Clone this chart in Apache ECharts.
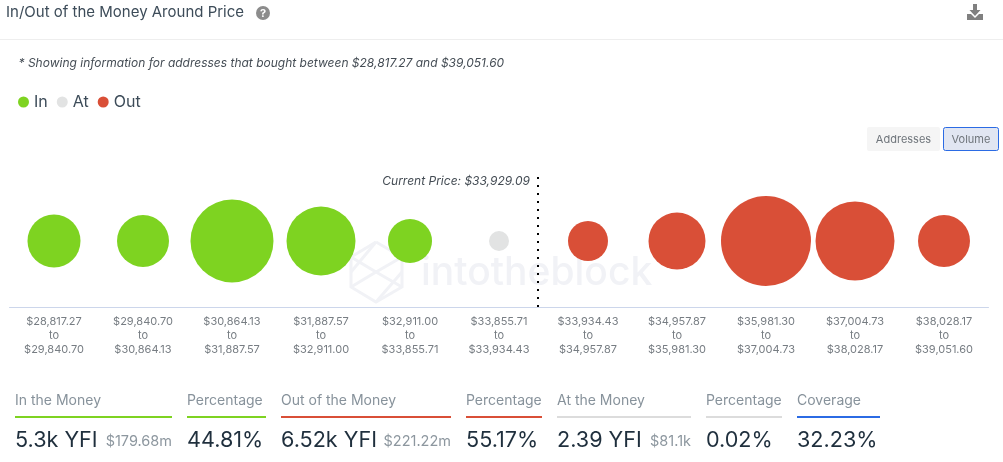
<!DOCTYPE html>
<html>
<head>
<meta charset="utf-8">
<style>html,body{margin:0;padding:0;background:#fff}#c{width:1003px;height:462px}</style>
<script src="https://cdn.jsdelivr.net/npm/echarts@6/dist/echarts.min.js"></script>
</head>
<body>
<div id="c"></div>
<script>
const categories = [
  "$28,817.27\nto\n$29,840.70","$29,840.70\nto\n$30,864.13","$30,864.13\nto\n$31,887.57",
  "$31,887.57\nto\n$32,911.00","$32,911.00\nto\n$33,855.71","$33,855.71\nto\n$33,934.43",
  "$33,934.43\nto\n$34,957.87","$34,957.87\nto\n$35,981.30","$35,981.30\nto\n$37,004.73",
  "$37,004.73\nto\n$38,028.17","$38,028.17\nto\n$39,051.60"
];
// estimated volume per bin, $m (bubble area)
const inValues  = [28.1, 27.0, 68.9, 47.6, 19.4, null, null, null, null, null, null];
const atValues  = [null, null, null, null, null, 0.08, null, null, null, null, null];
const outValues = [null, null, null, null, null, null, 16.0, 32.5, 81.0, 62.4, 27.0];
const currentPriceBin = 5.44;
const titleText = "In/Out of the Money Around Price";
const noteText = "* Showing information for addresses that bought between $28,817.27 and $39,051.60";
const currentPriceText = "Current Price: $33,929.09";
const buttonLabels = ["Addresses", "Volume"];
const statLabels = ["In the Money","Percentage","Out of the Money","Percentage","At the Money","Percentage","Coverage"];
const statValues = ["5.3k YFI","44.81%","6.52k YFI","55.17%","2.39 YFI","0.02%","32.23%"];
const statSubValues = ["$179.68m","","$221.22m","","$81.1k","",""];

const GREEN="#7ed321", GREY="#e2e3e3", RED="#d94f37";
const statLayout = [[15,172,GREEN],[187,266,GREEN],[281,451,RED],[466,542,RED],[557,691,"#dcdcdc"],[706,782,"#dcdcdc"],[797,880,"#2b6be4"]];
const FONT = "Inter";

function points(arr){ return arr.map((v,i)=> v==null ? null : [i,0,v]).filter(Boolean); }
const bubble = d => Math.max(20, Math.sqrt(d[2])*10);
function bubbleSeries(name, arr, color){
  return {name, type:'scatter', data:points(arr), symbol:'circle', symbolSize:bubble,
    itemStyle:{color, opacity:1}, silent:true, z:3, xAxisIndex:0, yAxisIndex:0};
}

const graphics = [];
function text(x,y,t,o,z){ graphics.push({type:'text',x,y,silent:true,z:z===undefined?5:z,style:Object.assign({text:t,fontFamily:FONT,verticalAlign:'middle'},o)}); }
function rect(x,y,w,h,fill,extra){ graphics.push({type:'rect',silent:true,z:4,shape:{x,y,width:w,height:h,r:(extra&&extra.r)||0},style:Object.assign({fill},extra&&extra.style||{})}); }
function poly(pts,fill){ graphics.push({type:'polygon',silent:true,z:4,shape:{points:pts},style:{fill}}); }

text(6,12.5,titleText,{fontSize:15,fontWeight:400,fill:"#3d4c59"});
graphics.push({type:'circle',silent:true,z:5,shape:{cx:263,cy:13,r:7},style:{fill:"#8c8c8c"}});
text(263,13.5,"?",{fontSize:11,fontWeight:700,fill:"#fff",align:'center'},6);
poly([[973,4],[977,4],[977,10],[980.5,10],[975,16],[969.5,10],[973,10]],"#808080");
poly([[967,14],[971,14],[975,18],[979,14],[983,14],[983,20],[967,20]],"#808080");
rect(0,39,1003,1,"#eeeeee");
text(18.5,63,noteText,{fontSize:12,fontStyle:'italic',fill:"#444c54"});

rect(867,127,73,24,"#f5f5f5",{r:2});
text(903.5,139.5,buttonLabels[0],{fontSize:11,fill:"#6f757b",align:'center'});
rect(943.5,127.5,55,23,"#e1e6f2",{r:2,style:{stroke:"#2b6be4",lineWidth:1}});
text(971,139.5,buttonLabels[1],{fontSize:11,fill:"#6f757b",align:'center'});

text(530,181.5,currentPriceText,{fontSize:12,fontStyle:'italic',fill:"#444c54",align:'right'});

// watermark
const wm={stroke:"#f1f2f6",lineWidth:3,fill:null};
[[[376,242],[402,257],[402,287],[376,302],[351,287],[351,257],[376,242]],
 [[351,257],[376,272],[402,257]],[[376,272],[351,287]],[[376,272],[402,287]],[[376,242],[351,272]],[[376,302],[402,272]]]
 .forEach(p=>graphics.push({type:'polyline',silent:true,z:0,shape:{points:p},style:wm}));
text(421,273,"intotheblock",{fontSize:39,fontWeight:500,fill:"#f1f2f6"},0);

statLabels.forEach((l,i)=>{
  const [x0,x1,c]=statLayout[i];
  text(x0,400.5,l,{fontSize:14,fill:"#87929b"});
  rect(x0,416,x1-x0,2,c);
  text(x0,440,statValues[i],{fontSize:21.6,fill:"#1f2f3d"});
  if(statSubValues[i]) text(x1,442,statSubValues[i],{fontSize:14.5,fill:"#8d979f",align:'right'});
});

const chart = echarts.init(document.getElementById('c'),null,{renderer:'canvas'});
chart.setOption({
  animation:false,
  backgroundColor:'#fff',
  textStyle:{fontFamily:FONT},
  grid:{left:9.5,right:14.5,top:175,height:132},
  legend:{left:13,top:89,icon:'circle',itemWidth:11,itemHeight:11,itemGap:9,selectedMode:false,
    textStyle:{fontSize:16,color:"#3d4c59",fontFamily:FONT},data:['In','At','Out']},
  xAxis:[
    {type:'category',data:categories,axisTick:{show:false},splitLine:{show:false},
     axisLine:{onZero:false,lineStyle:{color:"#ccd6eb",width:1}},
     axisLabel:{interval:0,color:"#777d83",fontSize:11,lineHeight:14,margin:8,fontFamily:FONT}},
    {type:'value',min:-0.5,max:10.5,show:false}
  ],
  yAxis:{type:'value',min:-1,max:1,show:false},
  series:[
    bubbleSeries('In',inValues,GREEN),
    bubbleSeries('At',atValues,GREY),
    bubbleSeries('Out',outValues,RED),
    {type:'line',xAxisIndex:1,yAxisIndex:0,data:[],silent:true,z:4,
     markLine:{silent:true,symbol:'none',animation:false,label:{show:false},
       lineStyle:{color:'#000',width:2,type:[2,6],cap:'butt'},
       data:[{xAxis:currentPriceBin}]}}
  ],
  graphic:graphics
});
</script>
</body>
</html>
